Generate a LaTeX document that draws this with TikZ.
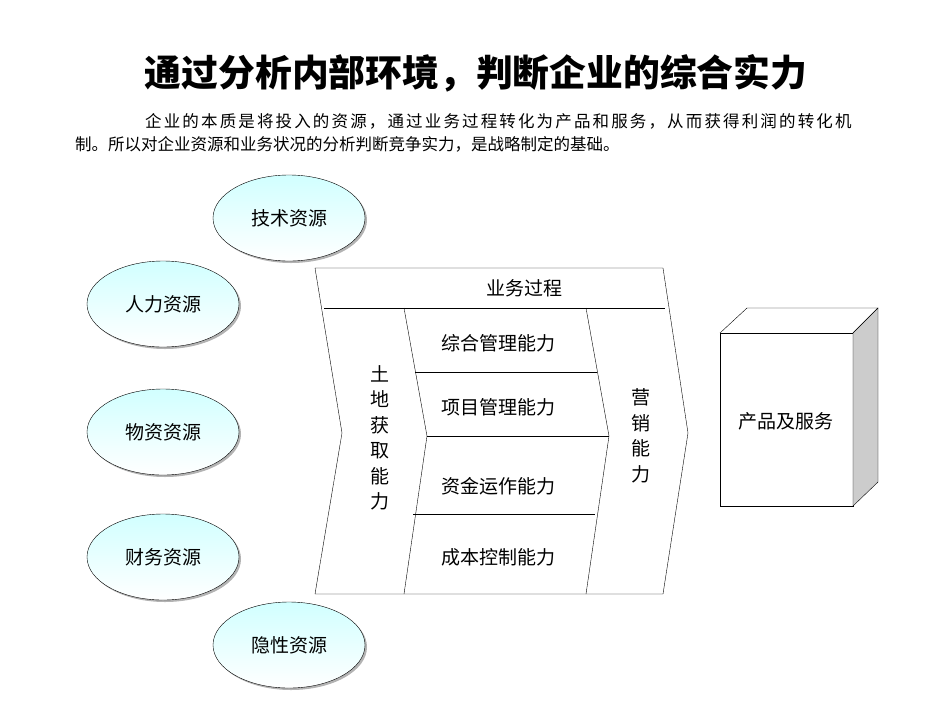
\documentclass[tikz,border=0pt]{standalone}
\usepackage{fontspec}
\setmainfont{Noto Sans CJK SC}
\newfontfamily\cjkwide[LetterSpace=13]{Noto Sans CJK SC}
\usetikzlibrary{shapes.geometric,shadows}

\tikzset{
  resource/.style={ellipse, draw, minimum width=152, minimum height=86, inner sep=0pt,
    top color=cyan!18, bottom color=white, drop shadow={opacity=0.6, shadow xshift=2pt, shadow yshift=-2pt},
    font=\fontsize{19}{22}\selectfont},
  label/.style={inner sep=0.75pt, font=\fontsize{19}{22}\selectfont},
}

\begin{document}
\begin{tikzpicture}[x=1pt,y=1pt,yscale=-1,xscale=1]
\useasboundingbox (0,0) rectangle (950,713);

\node (title) at (476,73) {\fontsize{36.8}{42}\selectfont\bfseries 通过分析内部环境，判断企业的综合实力};
\node (line1) [anchor=west, inner sep=0pt] at (145,121) {\fontsize{16.5}{20}\cjkwide 企业的本质是将投入的资源，通过业务过程转化为产品和服务，从而获得利润的转化机};
\node (line2) [anchor=west, inner sep=0pt] at (75,144) {\fontsize{16.5}{20}\selectfont 制。所以对企业资源和业务状况的分析判断竞争实力，是战略制定的基础。};

% resources
\node [resource] (tech) at (289,218) {技术资源};
\node [resource] (human) at (163,304) {人力资源};
\node [resource] (goods) at (163,432) {物资资源};
\node [resource] (money) at (163,557) {财务资源};
\node [resource] (hidden) at (289,645) {隐性资源};

% process chevron
\draw (315,268) -- (663,268) -- (688,433) -- (663,594) -- (315,594) -- (342,433) -- cycle ;
\draw (324,308) -- (665,308) ;
\draw (404,308) -- (427,436) -- (404,594) ;
\draw (586,308) -- (609,436) -- (586,594) ;
\draw (415,372) -- (597,372) ;
\draw (427,436) -- (609,436) ;
\draw (413,514) -- (595,514) ;

\node [label] (process) at (524,288) {业务过程};
\node [label] (general) at (498,343) {综合管理能力};
\node [label] (project) at (498,407) {项目管理能力};
\node [label] (capital) at (498,486) {资金运作能力};
\node [label] (cost) at (498,557) {成本控制能力};
\node [label, align=center, font=\fontsize{19}{25.5}\selectfont] (land) at (380,438) {土\\地\\获\\取\\能\\力};
\node [label, align=center, font=\fontsize{19}{25.5}\selectfont] (market) at (641,436) {营\\销\\能\\力};

% product box
\draw (720,333) rectangle (853,506) ;
\draw (720,333) -- (747,308) -- (878,308) -- (853,333) ;
\draw [fill=black!20] (853,333) -- (878,308) -- (878,482) -- (853,506) -- cycle ;
\node [label] (product) at (786,421) {产品及服务};

\end{tikzpicture}
\end{document}
